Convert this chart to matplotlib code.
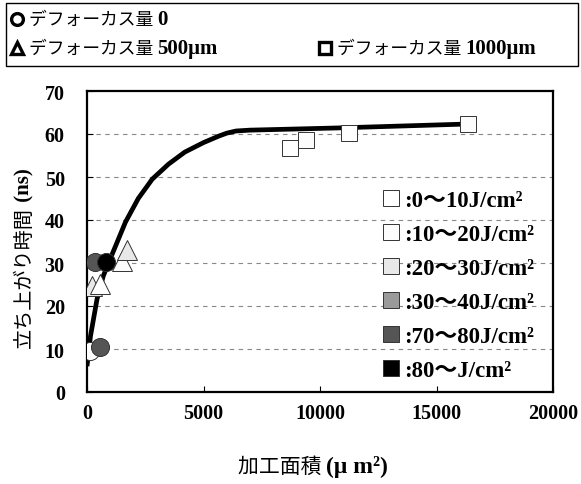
import matplotlib.pyplot as plt
from matplotlib.lines import Line2D
from matplotlib.patches import Rectangle

plt.rcParams['font.family'] = ['Liberation Serif', 'Noto Sans CJK JP']
plt.rcParams['font.weight'] = 'bold'

# fitted curve
curve_x = [0, 150, 430, 700, 1000, 1650, 2200, 2800, 3500, 4200, 5000, 5650, 6000, 6400, 7000, 8500, 10700, 16200]
curve_y = [6, 13, 21.6, 27, 31, 39.5, 45, 49.5, 53, 55.8, 58, 59.5, 60.2, 60.7, 60.9, 61.1, 61.4, 62.3]

# defocus 0 (circles)
c_x = [130, 560, 345, 800]
c_y = [9.6, 10.5, 30.2, 30.2]
c_cls = [0, 4, 4, 5]
# defocus 500um (triangles)
t_x = [200, 560, 1490, 1700]
t_y = [24.7, 25.1, 30.5, 33.1]
t_cls = [2, 0, 1, 2]
# defocus 1000um (squares)
s_x = [8700, 9400, 11260, 16370]
s_y = [56.7, 58.6, 60.2, 62.3]
s_cls = [0, 1, 0, 1]

cls_labels = [':0～10J/cm²', ':10～20J/cm²', ':20～30J/cm²', ':30～40J/cm²', ':70～80J/cm²', ':80～J/cm²']
cls_colors = ['white', '#fcfcfc', '#e8e8e8', '#9a9a9a', '#555555', 'black']

W, H = 581, 485
fig = plt.figure(figsize=(W / 100, H / 100), dpi=100)
ax = fig.add_axes([87 / W, 1 - 393 / H, (553 - 87) / W, (393 - 92) / H])

ax.plot(curve_x, curve_y, color='black', lw=3.4, zorder=3, solid_capstyle='butt')

for xs, ys, cl, mk, ms in [(c_x, c_y, c_cls, 'o', 13), (t_x, t_y, t_cls, '^', 15), (s_x, s_y, s_cls, 's', 12)]:
    for x, y, k in zip(xs, ys, cl):
        ax.plot(x, y, marker=mk, ms=ms, mfc=cls_colors[k], mec='#333333', mew=0.7, ls='', zorder=4)

ax.set_xlim(0, 20000)
ax.set_ylim(0, 70)
ax.set_xticks([0, 5000, 10000, 15000, 20000])
ax.set_yticks(range(0, 80, 10))
for y in range(10, 70, 10):
    ax.axhline(y, color='#888888', lw=0.8, ls=(0, (4, 4)), zorder=1)
ax.tick_params(direction='in', length=4, labelsize=14.5, pad=8)
ax.tick_params(axis='y', pad=16)
for s in ax.spines.values():
    s.set_linewidth(1.6)

# y label: japanese + bold (ns)
yl1 = fig.text(24 / W, 1 - 348 / H, '立ち上がり時間', family='Noto Sans CJK JP', weight='normal',
               fontsize=14.5, rotation=90, ha='center', va='bottom')
ax.annotate(' (ns)', xy=(0.5, 1), xycoords=yl1, ha='center', va='bottom', rotation=90,
            fontsize=15, weight='bold', annotation_clip=False)

# x label
xl1 = fig.text(238 / W, 1 - 467 / H, '加工面積 ', family='Noto Sans CJK JP', weight='normal',
               fontsize=15, ha='left', va='center')
ax.annotate('(μ m²)', xy=(1, 0.5), xycoords=xl1, ha='left', va='center',
            fontsize=17, weight='bold', annotation_clip=False)

# energy legend
handles = [Line2D([], [], marker='s', ls='', ms=12, mfc=c, mec='#333333', mew=0.7) for c in cls_colors]
ax.legend(handles, cls_labels, loc='upper left', bbox_to_anchor=(370 / W, 1 - 180 / H),
          bbox_transform=fig.transFigure, frameon=False, fontsize=16.5, handlelength=0.8,
          handletextpad=0.2, labelspacing=0.56, borderpad=0)

# defocus legend box at the top
fig.patches.append(Rectangle((6 / W, 1 - 67 / H), (578 - 6) / W, (67 - 4) / H, transform=fig.transFigure,
                             fill=False, lw=1.0, ec='black'))
rows = [(17, 20, 'o', '0'), (17, 49, '^', '500μm'), (325, 49, 's', '1000μm')]
for px, py, mk, val in rows:
    fig.add_artist(Line2D([px / W], [1 - py / H], marker=mk, ms=8.5, mfc='white', mec='black', mew=2.4,
                          transform=fig.transFigure))
    t = fig.text((px + 12) / W, 1 - py / H, 'デフォーカス量 ', family='Noto Sans CJK JP', weight='normal',
                 fontsize=12.8, ha='left', va='center')
    ax.annotate(val, xy=(1, 0.5), xycoords=t, ha='left', va='center', fontsize=15, weight='bold',
                annotation_clip=False)

fig.savefig('out.png', dpi=100)
